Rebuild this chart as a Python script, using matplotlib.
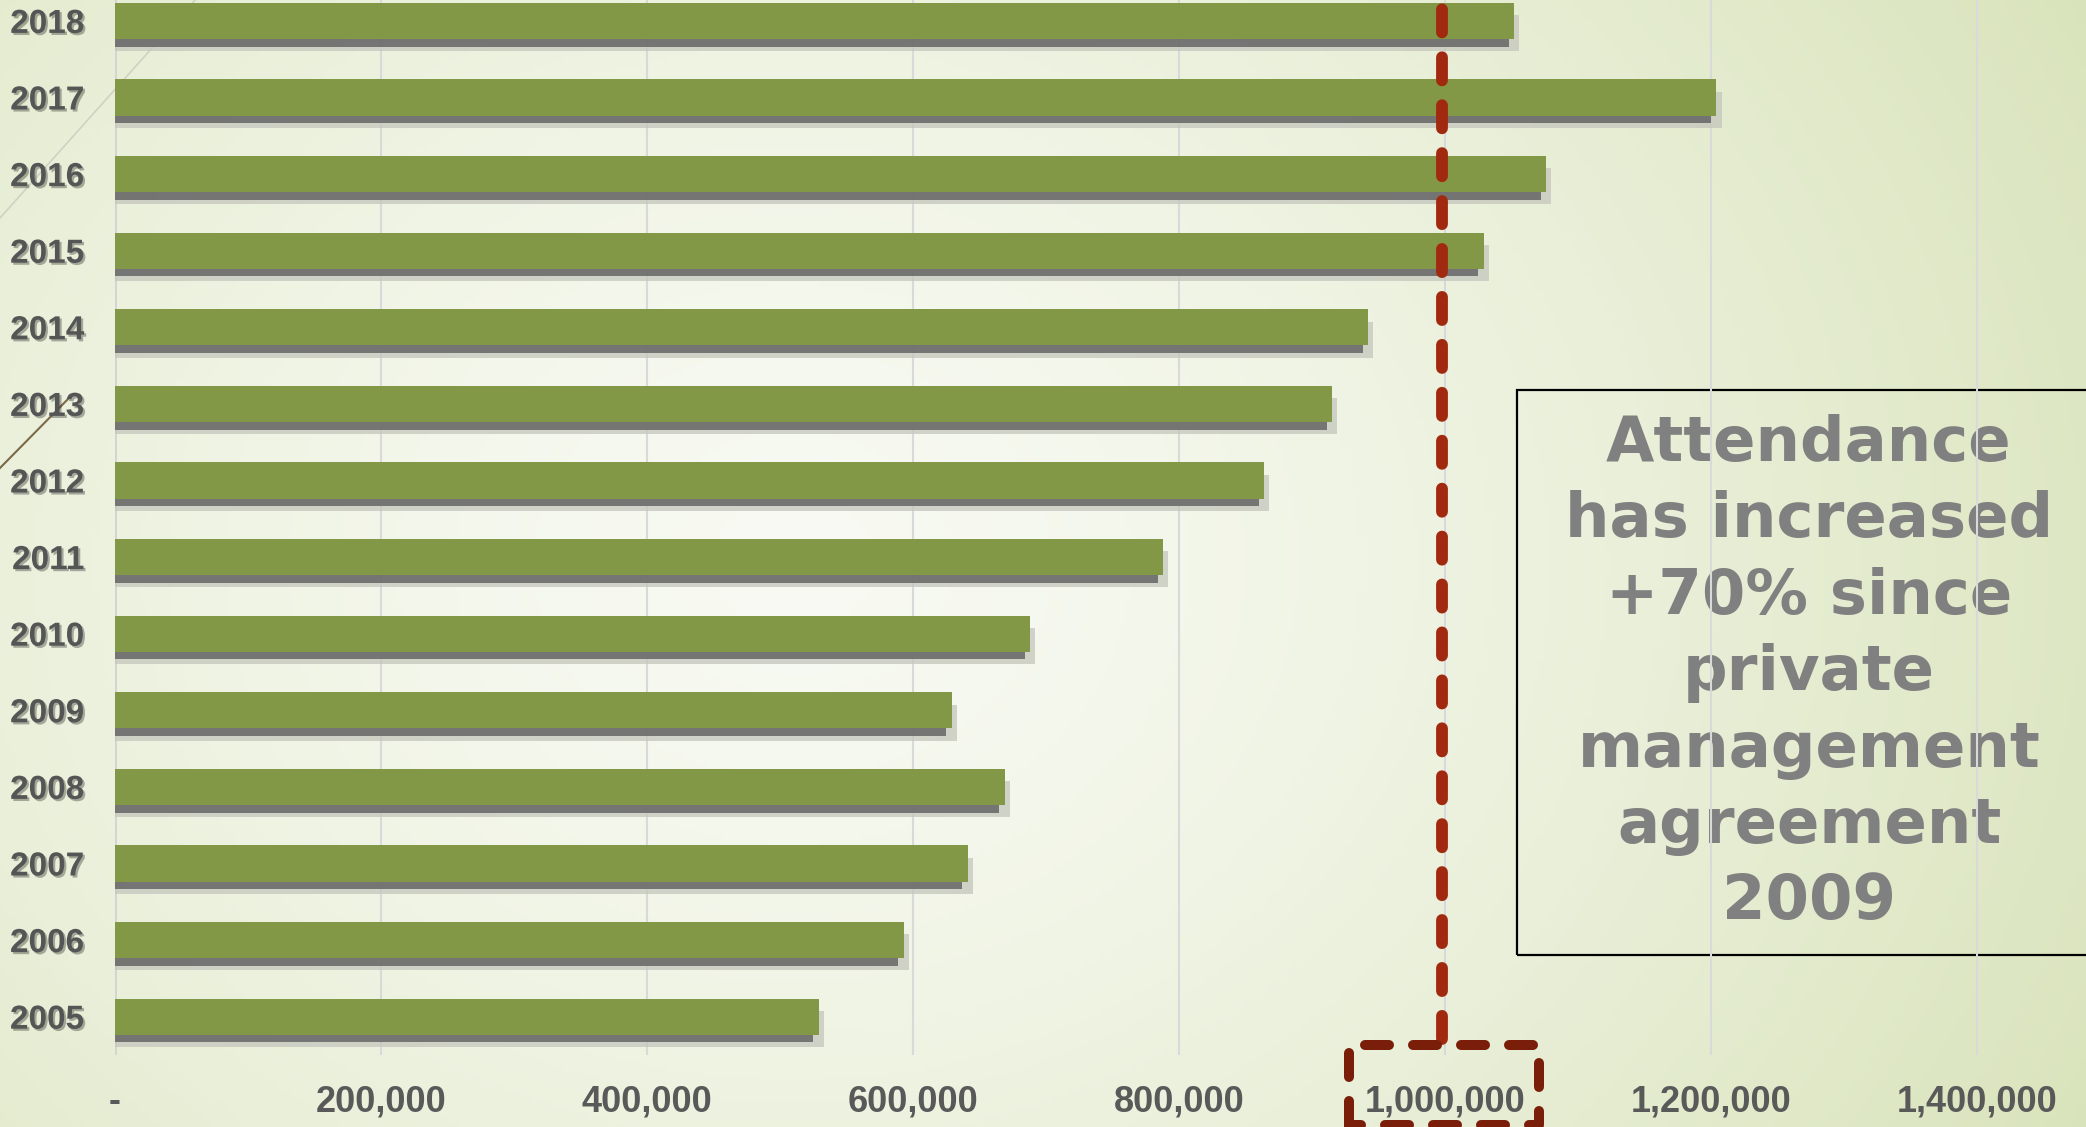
import numpy as np
import matplotlib
matplotlib.use("Agg")
import matplotlib.pyplot as plt
import matplotlib.patheffects as pe
from matplotlib.lines import Line2D
from matplotlib.patches import Rectangle

years = ["2005", "2006", "2007", "2008", "2009", "2010", "2011",
         "2012", "2013", "2014", "2015", "2016", "2017", "2018"]
attendance = [529000, 593000, 641000, 669000, 629000, 688000, 788000,
              864000, 915000, 942000, 1029000, 1076000, 1204000, 1052000]
xticks = [0, 200000, 400000, 600000, 800000, 1000000, 1200000, 1400000]
note_lines = ["Attendance", "has increased", "+70% since", "private",
              "management", "agreement", "2009"]
threshold = 998000

W, H = 2086, 1127
fig = plt.figure(figsize=(W / 100, H / 100), dpi=100)

# slide background: soft radial green gradient
bg = fig.add_axes([0, 0, 1, 1], zorder=-5)
gx, gy = np.meshgrid(np.linspace(0, 1, 400), np.linspace(0, 1, 220))
d = np.sqrt(((gx - 0.38) / 0.62) ** 2 + ((gy - 0.5) / 0.95) ** 2)
t = np.clip(d, 0, 1.2) ** 1.4
c0 = np.array([248, 250, 243]) / 255
c1 = np.array([222, 231, 196]) / 255
img = c0[None, None, :] + (c1 - c0)[None, None, :] * t[..., None]
bg.imshow(np.clip(img, 0, 1), extent=[0, 1, 0, 1], aspect="auto", origin="lower")
bg.set_axis_off()

# decorative slide lines
fig.add_artist(Line2D([0, 195 / W], [1 - 218 / H, 1], transform=fig.transFigure,
                      color="#cfd2c2", lw=1.2, zorder=-1))
fig.add_artist(Line2D([0, 70 / W], [1 - 468 / H, 1 - 397 / H], transform=fig.transFigure,
                      color="#7a6a48", lw=1.5, zorder=-1))

# note box behind the chart
fig.add_artist(Rectangle((1517 / W, 1 - 955 / H), 0.3, (955 - 390) / H,
                         transform=fig.transFigure, fill=False, ec="black",
                         lw=1.6, zorder=-1))
for i, line in enumerate(note_lines):
    fig.text(1809 / W, 1 - (461 + 76.4 * i) / H, line, ha="center", va="baseline",
             fontsize=45, fontweight="bold", color="#808080",
             family="DejaVu Sans", zorder=-1)

ax = fig.add_axes([115 / W, 72 / H, (1977 - 115) / W * 1.45 / 1.4, 1072.4 / H])
ax.set_facecolor("none")
ypos = np.arange(len(years))
vals = np.array(attendance)

# soft drop shadow under each bar
ax.barh(ypos - 0.16, vals + 4000, height=0.47, color="#c4c6bc", alpha=0.75, zorder=2)
ax.barh(ypos - 0.1, vals - 4000, height=0.47, color="#6b6b6b", alpha=0.9, zorder=2.5)
ax.barh(ypos, vals, height=0.47, color="#839846", zorder=3)

ax.set_xlim(0, 1450000)
ax.set_ylim(-0.5, 13.5)
ax.set_xticks(xticks)
ax.set_xticklabels(["-" if v == 0 else f"{v:,}" for v in xticks])
ax.set_yticks(ypos)
ax.set_yticklabels(years)
ax.grid(axis="x", color="#d9d9d9", lw=1.5, zorder=1)
ax.set_axisbelow(True)
ax.axvline(0, color="#d3d3d3", lw=2, zorder=1.5)
for s in ax.spines.values():
    s.set_visible(False)
ax.tick_params(length=0)
ax.tick_params(axis="x", pad=21, labelsize=26, labelcolor="#595959")
ax.tick_params(axis="y", pad=22, labelsize=24, labelcolor="#555555")
for lab in ax.get_xticklabels():
    lab.set_fontfamily(["Liberation Sans", "DejaVu Sans"])
    lab.set_fontweight("bold")
for lab in ax.get_yticklabels():
    lab.set_fontfamily(["Liberation Sans", "DejaVu Sans"])
    lab.set_fontweight("bold")
    lab.set_path_effects([pe.withSimplePatchShadow(offset=(1.5, -1.5),
                                                   shadow_rgbFace="black", alpha=0.3)])

# red dashed marker at ~1,000,000 and the box around the tick label
ax.plot([threshold, threshold], [-0.29, 14.5], color="#a0290f", lw=8.5,
        dashes=(1.96, 2.1), dash_capstyle="round", clip_on=False, zorder=5)
bx0, bx1, by0, by1 = 928000, 1071000, -0.37, -1.42
ax.plot([bx0, bx0, bx1, bx1, bx0], [by1, by0, by0, by1, by1], color="#7a1e0a", lw=7.2,
        dashes=(2.4, 2.4), dash_capstyle="round", dash_joinstyle="round",
        clip_on=False, zorder=5)

fig.savefig("out.png", dpi=100)
